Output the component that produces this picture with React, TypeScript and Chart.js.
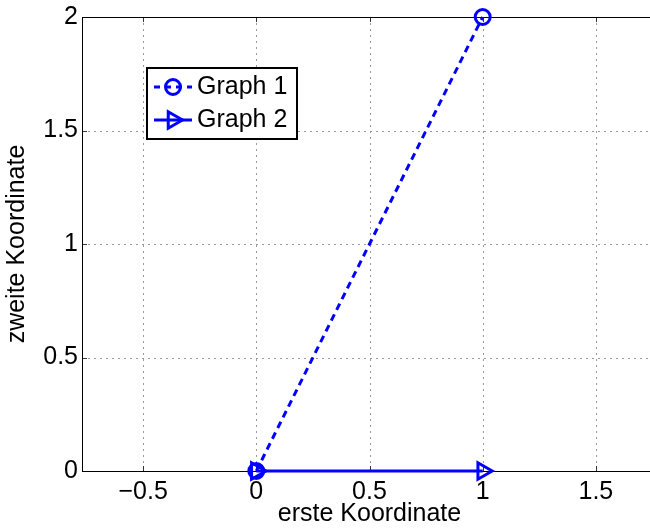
import { useEffect, useRef } from "react";
import { Chart, registerables } from "chart.js";

Chart.register(...registerables);

// ---- data ----
const graph1X = [0, 1];
const graph1Y = [0, 2];
const graph2X = [0, 1];
const graph2Y = [0, 0];
const xTicks = [-0.5, 0, 0.5, 1, 1.5];
const yTicks = [0, 0.5, 1, 1.5, 2];
const legendLabels = ["Graph 1", "Graph 2"];
const xTitle = "erste Koordinate";
const yTitle = "zweite Koordinate";

const FONT = "'Liberation Sans', Arial, Helvetica, sans-serif";
const BLUE = "#0000ff";
const FS = 25;

function fmt(v: number): string {
  return v < 0 ? "\u2212" + String(-v) : String(v);
}

function drawCircle(ctx: CanvasRenderingContext2D, x: number, y: number, r: number) {
  ctx.beginPath();
  ctx.arc(x, y, r, 0, Math.PI * 2);
  ctx.stroke();
}

function drawTriRight(ctx: CanvasRenderingContext2D, x: number, y: number, r: number) {
  ctx.beginPath();
  let rad = Math.PI / 2;
  ctx.moveTo(x + Math.sin(rad) * r, y - Math.cos(rad) * r);
  rad += (2 * Math.PI) / 3;
  ctx.lineTo(x + Math.sin(rad) * r, y - Math.cos(rad) * r);
  rad += (2 * Math.PI) / 3;
  ctx.lineTo(x + Math.sin(rad) * r, y - Math.cos(rad) * r);
  ctx.closePath();
  ctx.stroke();
}

const framePlugin = {
  id: "matlabFrame",
  beforeDatasetsDraw(chart: any) {
    const { ctx, chartArea: a, scales } = chart;
    const xs = scales.x;
    const ys = scales.y;
    ctx.save();
    // dotted grid
    ctx.strokeStyle = "#9a9a9a";
    ctx.lineWidth = 1;
    ctx.setLineDash([2, 4]);
    for (const v of xTicks) {
      const px = Math.round(xs.getPixelForValue(v)) + 0.5;
      ctx.beginPath();
      ctx.moveTo(px, a.top);
      ctx.lineTo(px, a.bottom);
      ctx.stroke();
    }
    for (const v of yTicks) {
      const py = Math.round(ys.getPixelForValue(v)) + 0.5;
      ctx.beginPath();
      ctx.moveTo(a.left, py);
      ctx.lineTo(a.right, py);
      ctx.stroke();
    }
    ctx.setLineDash([]);
    // inward ticks
    ctx.strokeStyle = "#333";
    const tl = 5;
    for (const v of xTicks) {
      const px = Math.round(xs.getPixelForValue(v)) + 0.5;
      ctx.beginPath();
      ctx.moveTo(px, a.bottom);
      ctx.lineTo(px, a.bottom - tl);
      ctx.moveTo(px, a.top);
      ctx.lineTo(px, a.top + tl);
      ctx.stroke();
    }
    for (const v of yTicks) {
      const py = Math.round(ys.getPixelForValue(v)) + 0.5;
      ctx.beginPath();
      ctx.moveTo(a.left, py);
      ctx.lineTo(a.left + tl, py);
      ctx.moveTo(a.right, py);
      ctx.lineTo(a.right - tl, py);
      ctx.stroke();
    }
    // frame
    ctx.strokeStyle = "#000";
    ctx.lineWidth = 1;
    const l = Math.round(a.left) + 0.5;
    const t = Math.round(a.top) + 0.5;
    const r = Math.round(a.right) + 0.5;
    const b = Math.round(a.bottom) + 0.5;
    ctx.strokeRect(l, t, r - l, b - t);
    ctx.restore();
  },
  afterDraw(chart: any) {
    const { ctx, chartArea: a } = chart;
    ctx.save();
    const bx = a.left + 65;
    const by = a.top + 51;
    const bw = 150;
    const bh = 71;
    ctx.fillStyle = "#fff";
    ctx.fillRect(bx, by, bw, bh);
    ctx.strokeStyle = "#000";
    ctx.lineWidth = 2;
    ctx.strokeRect(bx, by, bw, bh);
    const rows = [by + 19, by + 52];
    const lx0 = bx + 7;
    const lx1 = bx + 45;
    const mx = bx + 26;
    ctx.strokeStyle = BLUE;
    ctx.lineWidth = 3;
    // row 1: dashed + circle
    ctx.setLineDash([6, 5]);
    ctx.beginPath();
    ctx.moveTo(lx0, rows[0]);
    ctx.lineTo(lx1, rows[0]);
    ctx.stroke();
    ctx.setLineDash([]);
    drawCircle(ctx, mx, rows[0], 7.5);
    // row 2: solid + triangle
    ctx.beginPath();
    ctx.moveTo(lx0, rows[1]);
    ctx.lineTo(lx1, rows[1]);
    ctx.stroke();
    drawTriRight(ctx, mx, rows[1], 9.5);
    ctx.fillStyle = "#000";
    ctx.font = `${FS}px ${FONT}`;
    ctx.textBaseline = "middle";
    ctx.textAlign = "left";
    ctx.fillText(legendLabels[0], bx + 50, rows[0]);
    ctx.fillText(legendLabels[1], bx + 50, rows[1]);
    ctx.restore();
  },
};

export default function App() {
  const ref = useRef<HTMLCanvasElement | null>(null);
  useEffect(() => {
    if (!ref.current) return;
    const chart = new Chart(ref.current, {
      type: "line",
      data: {
        datasets: [
          {
            label: legendLabels[0],
            data: graph1X.map((x, i) => ({ x, y: graph1Y[i] })),
            borderColor: BLUE,
            backgroundColor: "rgba(0,0,0,0)",
            borderWidth: 3,
            borderDash: [7, 5],
            pointStyle: "circle",
            pointRadius: 7.5,
            pointBorderWidth: 3,
            pointBorderColor: BLUE,
            pointBackgroundColor: "rgba(0,0,0,0)",
            clip: false as any,
            tension: 0,
          },
          {
            label: legendLabels[1],
            data: graph2X.map((x, i) => ({ x, y: graph2Y[i] })),
            borderColor: BLUE,
            backgroundColor: "rgba(0,0,0,0)",
            borderWidth: 3,
            pointStyle: "triangle",
            pointRotation: 90,
            pointRadius: 9.5,
            pointBorderWidth: 3,
            pointBorderColor: BLUE,
            pointBackgroundColor: "rgba(0,0,0,0)",
            clip: false as any,
            tension: 0,
          },
        ],
      },
      options: {
        animation: false,
        responsive: false,
        maintainAspectRatio: false,
        devicePixelRatio: 1,
        layout: { autoPadding: false, padding: { top: 17, right: 3, left: 0, bottom: 0 } },
        plugins: {
          legend: { display: false },
          tooltip: { enabled: false },
        },
        events: [],
        scales: {
          x: {
            type: "linear",
            min: -0.77,
            max: 1.77,
            afterBuildTicks: (s: any) => {
              s.ticks = xTicks.map((v) => ({ value: v }));
            },
            afterFit: (s: any) => {
              s.height = 59;
              s.paddingLeft = 0;
              s.paddingRight = 0;
            },
            grid: { display: false, drawTicks: false },
            border: { display: false },
            ticks: {
              autoSkip: false,
              maxRotation: 0,
              padding: 6,
              color: "#000",
              font: { family: FONT, size: FS },
              callback: (v: any) => fmt(Number(v)),
            },
            title: {
              display: true,
              text: xTitle,
              color: "#000",
              font: { family: FONT, size: FS },
              padding: { top: 0, bottom: 1 },
            },
          },
          y: {
            type: "linear",
            min: 0,
            max: 2,
            afterBuildTicks: (s: any) => {
              s.ticks = yTicks.map((v) => ({ value: v }));
            },
            afterFit: (s: any) => {
              s.width = 82;
              s.paddingTop = 0;
              s.paddingBottom = 0;
            },
            grid: { display: false, drawTicks: false },
            border: { display: false },
            ticks: {
              autoSkip: false,
              padding: 4,
              color: "#000",
              font: { family: FONT, size: FS },
              callback: (v: any) => fmt(Number(v)),
            },
            title: {
              display: true,
              text: yTitle,
              color: "#000",
              font: { family: FONT, size: FS },
              padding: { top: 2, bottom: 0 },
            },
          },
        },
      },
      plugins: [framePlugin],
    });
    return () => chart.destroy();
  }, []);
  return (
    <div
      style={{
        position: "absolute",
        left: 0,
        top: 0,
        width: 650,
        height: 530,
        overflow: "hidden",
        background: "#fff",
      }}
    >
      <div style={{ width: 660, height: 530, position: "relative" }}>
        <canvas
          ref={ref}
          width={660}
          height={530}
          style={{ display: "block", width: 660, height: 530 }}
        />
      </div>
    </div>
  );
}
